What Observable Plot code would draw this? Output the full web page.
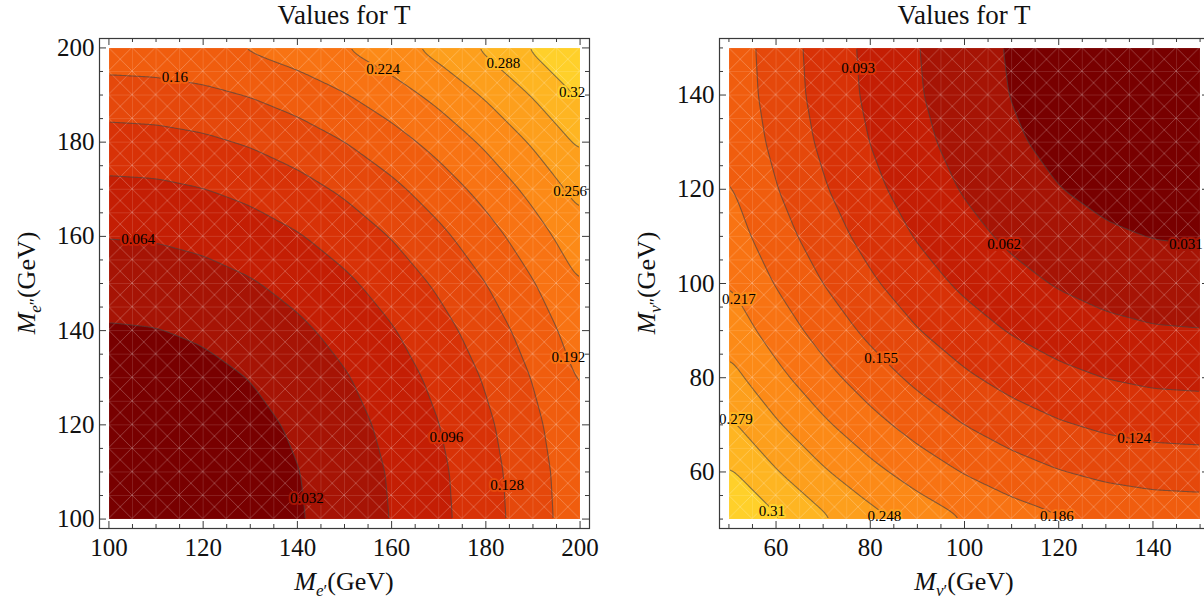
<!DOCTYPE html>
<html>
<head>
<meta charset="utf-8">
<script src="https://cdn.jsdelivr.net/npm/d3@7"></script>
<script src="https://cdn.jsdelivr.net/npm/@observablehq/plot@0.6"></script>
<style>
  html, body { margin: 0; padding: 0; background: #fff; }
  body { width: 1204px; height: 607px; overflow: hidden; position: relative; font-family: "Liberation Serif", "Times New Roman", serif; color: #111; }
  .panel { position: absolute; top: 0; width: 620px; height: 607px; }
  .title { position: absolute; top: 0; left: 99px; width: 490px; height: 30px; line-height: 30px; font-size: 27px; text-align: center; white-space: nowrap; }
  .chart { position: absolute; top: 30px; left: 0; }
  .xlab { position: absolute; left: 344px; top: 569px; line-height: 26px; font-size: 26px; white-space: nowrap; transform: translateX(-50%); }
  .ylab { position: absolute; left: 28px; top: 283px; line-height: 26px; font-size: 26px; white-space: nowrap; transform: translate(-50%, -50%) rotate(-90deg); }
  .sb { font-size: 17px; position: relative; top: 6px; }
</style>
</head>
<body>
<div class="panel" id="p0">
  <div class="title">Values for T</div>
  <div class="chart" id="c0"></div>
  <div class="xlab"><i>M</i><span class="sb"><i>e</i>′</span>(GeV)</div>
  <div class="ylab"><i>M</i><span class="sb"><i>e</i>″</span>(GeV)</div>
</div>
<div class="panel" id="p1" style="left:620px">
  <div class="title">Values for T</div>
  <div class="chart" id="c1"></div>
  <div class="xlab"><i>M</i><span class="sb"><i>ν</i>′</span>(GeV)</div>
  <div class="ylab"><i>M</i><span class="sb"><i>ν</i>″</span>(GeV)</div>
</div>
<script>
// ---------- data ----------
// Left panel: M_e' (x) vs M_e'' (y), sampled every 10 GeV
const gridL = [100, 110, 120, 130, 140, 150, 160, 170, 180, 190, 200];
// rows: y = 100 ... 200 ; columns: x = 100 ... 200
const TL = [
  [0.0005,0.0023,0.0077,0.0166,0.0292,0.0452,0.0649,0.0882,0.1150,0.1454,0.1793],
  [0.0023,0.0041,0.0095,0.0184,0.0309,0.0470,0.0667,0.0899,0.1168,0.1472,0.1811],
  [0.0077,0.0095,0.0148,0.0238,0.0363,0.0524,0.0721,0.0953,0.1221,0.1525,0.1865],
  [0.0166,0.0184,0.0238,0.0327,0.0452,0.0613,0.0810,0.1042,0.1311,0.1615,0.1954],
  [0.0292,0.0309,0.0363,0.0452,0.0578,0.0739,0.0935,0.1168,0.1436,0.1740,0.2080],
  [0.0452,0.0470,0.0524,0.0613,0.0739,0.0899,0.1096,0.1329,0.1597,0.1901,0.2240],
  [0.0649,0.0667,0.0721,0.0810,0.0935,0.1096,0.1293,0.1525,0.1793,0.2097,0.2437],
  [0.0882,0.0899,0.0953,0.1042,0.1168,0.1329,0.1525,0.1758,0.2026,0.2330,0.2670],
  [0.1150,0.1168,0.1221,0.1311,0.1436,0.1597,0.1793,0.2026,0.2294,0.2598,0.2938],
  [0.1454,0.1472,0.1525,0.1615,0.1740,0.1901,0.2097,0.2330,0.2598,0.2902,0.3242],
  [0.1793,0.1811,0.1865,0.1954,0.2080,0.2240,0.2437,0.2670,0.2938,0.3242,0.3581]
];
const levelsL = [0.032, 0.064, 0.096, 0.128, 0.16, 0.192, 0.224, 0.256, 0.288, 0.32];
const majorL = [100, 120, 140, 160, 180, 200];
const minorL = [105, 110, 115, 125, 130, 135, 145, 150, 155, 165, 170, 175, 185, 190, 195];
const labXL = [114, 158.2, 183.7, 198.3, 197.9, 197.5, 106.2, 171.6, 184.5, 142];
const labYL = [193.8, 195.5, 196.8, 190.7, 169.6, 134.4, 159.4, 117.3, 107.2, 104.5];
const labTL = [0.16, 0.224, 0.288, 0.32, 0.256, 0.192, 0.064, 0.096, 0.128, 0.032];

// Right panel: M_nu' (x) vs M_nu'' (y), sampled every 10 GeV
const gridR = [50, 60, 70, 80, 90, 100, 110, 120, 130, 140, 150];
// rows: y = 50 ... 150 ; columns: x = 50 ... 150
const TR = [
  [0.3469,0.3140,0.2846,0.2586,0.2361,0.2170,0.2014,0.1893,0.1806,0.1755,0.1737],
  [0.3140,0.2811,0.2517,0.2257,0.2032,0.1841,0.1685,0.1564,0.1477,0.1425,0.1408],
  [0.2846,0.2517,0.2222,0.1962,0.1737,0.1547,0.1391,0.1270,0.1183,0.1131,0.1114],
  [0.2586,0.2257,0.1962,0.1703,0.1477,0.1287,0.1131,0.1010,0.0923,0.0871,0.0854],
  [0.2361,0.2032,0.1737,0.1477,0.1252,0.1062,0.0906,0.0785,0.0698,0.0646,0.0629],
  [0.2170,0.1841,0.1547,0.1287,0.1062,0.0871,0.0715,0.0594,0.0507,0.0456,0.0438],
  [0.2014,0.1685,0.1391,0.1131,0.0906,0.0715,0.0559,0.0438,0.0352,0.0300,0.0282],
  [0.1893,0.1564,0.1270,0.1010,0.0785,0.0594,0.0438,0.0317,0.0230,0.0178,0.0161],
  [0.1806,0.1477,0.1183,0.0923,0.0698,0.0507,0.0352,0.0230,0.0144,0.0092,0.0074],
  [0.1755,0.1425,0.1131,0.0871,0.0646,0.0456,0.0300,0.0178,0.0092,0.0040,0.0023],
  [0.1737,0.1408,0.1114,0.0854,0.0629,0.0438,0.0282,0.0161,0.0074,0.0023,0.0005]
];
const levelsR = [0.031, 0.062, 0.093, 0.124, 0.155, 0.186, 0.217, 0.248, 0.279, 0.31];
const majorR = [60, 80, 100, 120, 140];
const minorR = [50, 55, 65, 70, 75, 85, 90, 95, 105, 110, 115, 125, 130, 135, 145, 150];
const labXR = [77.4, 108.4, 147, 52.1, 82.3, 51.5, 136, 59.1, 83, 119.6];
const labYR = [145.8, 108.4, 108.4, 96.7, 84.2, 71.2, 67.1, 51.7, 50.6, 50.6];
const labTR = [0.093, 0.062, 0.031, 0.217, 0.155, 0.279, 0.124, 0.31, 0.248, 0.186];

// band colours, lowest band first
const bandColors = ["#780000","#a61405","#c41e04","#d83207","#e5480b","#f05d0e","#f87313","#fc8a17","#fd9f1c","#feb522","#ffd02a"];

// ---------- drawing ----------
const SERIF = '"Liberation Serif", "Times New Roman", serif';
function panel(idx, grid, T, levels, major, minor, domain, lx, ly, lt) {
  const pts = [];
  T.forEach((row, j) => row.forEach((t, i) => pts.push({x: grid[i], y: grid[j], t})));
  const labels = lt.map((t, k) => ({x: lx[k], y: ly[k], t}));
  const W = 620, H = 577, mL = 99, mR = 31, mT = 8, mB = 79;
  const pw = W - mL - mR, ph = H - mT - mB;
  const g0 = grid[0], g1 = grid[grid.length - 1];
  const frameStroke = "#3a3a3a";
  const common = {x: "x", y: "y", interpolate: "barycentric", x1: g0, x2: g1, y1: g0, y2: g1, pixelSize: 1, blur: 6};
  const chart = Plot.plot({
    width: W, height: H,
    marginLeft: mL, marginRight: mR, marginTop: mT, marginBottom: mB,
    x: {domain},
    y: {domain},
    color: {type: "threshold", domain: levels, range: bandColors},
    style: {background: "white", overflow: "visible", color: "#111"},
    marks: [
      Plot.contour(pts, {...common, fill: "t", thresholds: [0, ...levels]}),
      Plot.contour(pts, {...common, value: "t", thresholds: levels,
        fill: "none", stroke: "#454545", strokeOpacity: 0.65, strokeWidth: 1.1}),
      Plot.text(labels, {x: "x", y: "y", text: d => String(d.t), fill: "t", stroke: "t",
        strokeWidth: 4, fontSize: 15}),
      Plot.text(labels, {x: "x", y: "y", text: d => String(d.t), fill: "black", fontSize: 15, clip: true}),
      Plot.frame({stroke: frameStroke, strokeWidth: 1.2}),
      Plot.tickX(major, {x: d => d, insetTop: ph - 7, stroke: frameStroke}),
      Plot.tickX(major, {x: d => d, insetBottom: ph - 7, stroke: frameStroke}),
      Plot.tickX(minor, {x: d => d, insetTop: ph - 4, stroke: frameStroke}),
      Plot.tickX(minor, {x: d => d, insetBottom: ph - 4, stroke: frameStroke}),
      Plot.tickY(major, {y: d => d, insetRight: pw - 7, stroke: frameStroke}),
      Plot.tickY(major, {y: d => d, insetLeft: pw - 7, stroke: frameStroke}),
      Plot.tickY(minor, {y: d => d, insetRight: pw - 4, stroke: frameStroke}),
      Plot.tickY(minor, {y: d => d, insetLeft: pw - 4, stroke: frameStroke}),
      Plot.axisX({ticks: major, tickSize: 0, tickPadding: 10, label: null, tickFormat: d => String(d), fill: "#111", fontSize: 25}),
      Plot.axisY({ticks: major, tickSize: 0, tickPadding: 5, label: null, tickFormat: d => String(d), fill: "#111", fontSize: 25})
    ]
  });
  document.getElementById("c" + idx).appendChild(chart);

  chart.style.fontFamily = SERIF;
  chart.querySelectorAll("text").forEach(t => { t.style.fontFamily = SERIF; });

  // clip fills, lines and label halos to the filled region; add the faint tessellation mesh
  try {
    const px = d3.scaleLinear(domain, [mL, mL + pw]);
    const py = d3.scaleLinear(domain, [mT + ph, mT]);
    const fx0 = px(g0), fx1 = px(g1), fy0 = py(g1), fy1 = py(g0);
    const NS = "http://www.w3.org/2000/svg";
    const svg = d3.select(chart);
    const defs = svg.append("defs");
    defs.append("clipPath").attr("id", "clipL" + idx).append("rect")
      .attr("x", fx0 + 1).attr("y", fy0 + 1).attr("width", fx1 - fx0 - 2).attr("height", fy1 - fy0 - 2);
    defs.append("clipPath").attr("id", "clipF" + idx).append("rect")
      .attr("x", fx0).attr("y", fy0).attr("width", fx1 - fx0).attr("height", fy1 - fy0);
    const cell = (fx1 - fx0) / 20;
    const pat = defs.append("pattern").attr("id", "mesh" + idx).attr("patternUnits", "userSpaceOnUse")
      .attr("x", fx0).attr("y", fy0).attr("width", cell).attr("height", cell);
    pat.append("path")
      .attr("d", `M0,0H${cell}M0,0V${cell}M0,0L${cell},${cell}M${cell},0L0,${cell}`)
      .attr("stroke", "#fff").attr("stroke-opacity", 0.3).attr("stroke-width", 0.8).attr("fill", "none");
    const contours = chart.querySelectorAll('g[aria-label="contour"]');
    const fillG = contours[0], lineG = contours[1];
    if (fillG) fillG.setAttribute("clip-path", `url(#clipF${idx})`);
    if (lineG) lineG.setAttribute("clip-path", `url(#clipL${idx})`);
    const texts = chart.querySelectorAll('g[aria-label="text"]');
    if (texts[0]) texts[0].setAttribute("clip-path", `url(#clipF${idx})`);
    const mesh = document.createElementNS(NS, "rect");
    mesh.setAttribute("x", fx0); mesh.setAttribute("y", fy0);
    mesh.setAttribute("width", fx1 - fx0); mesh.setAttribute("height", fy1 - fy0);
    mesh.setAttribute("fill", `url(#mesh${idx})`);
    if (lineG) chart.insertBefore(mesh, lineG); else chart.appendChild(mesh);
  } catch (e) { console.error(e); }
}

panel(0, gridL, TL, levelsL, majorL, minorL, [98, 202], labXL, labYL, labTL);
panel(1, gridR, TR, levelsR, majorR, minorR, [48, 152], labXR, labYR, labTR);
</script>
</body>
</html>
